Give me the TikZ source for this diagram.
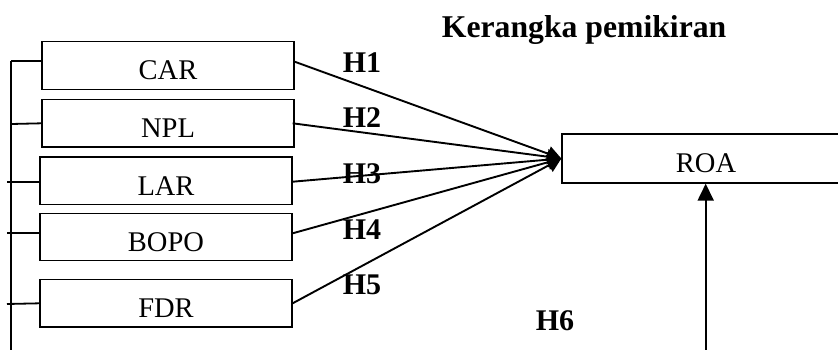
\documentclass[tikz,border=0pt]{standalone}
\usepackage{fontspec}
\setmainfont{Liberation Serif}
\usetikzlibrary{arrows.meta}
\begin{document}
\begin{tikzpicture}[x=1pt,y=-1pt,
  varbox/.style={draw,line width=1.3pt,minimum width=252pt,minimum height=47.5pt,inner sep=0pt,
    font=\fontsize{28.5}{30}\selectfont,text height=28.8pt,text depth=0pt},
  hlabel/.style={inner sep=0pt,font=\fontsize{30}{32}\selectfont\bfseries},
  conn/.style={line width=1.9pt,-{Triangle[length=14pt,width=15pt]}},
  bus/.style={line width=1.8pt}]
\useasboundingbox (0,0) rectangle (838,349);
% title
\node[anchor=base west,inner sep=0pt,font=\fontsize{31.7}{34}\selectfont\bfseries] (title) at (441.7,37) {Kerangka pemikiran};
% boxes
\node[varbox] (car) at (168,65.5) {CAR};
\node[varbox] (npl) at (168,123.3) {NPL};
\node[varbox] (lar) at (166,180.7) {LAR};
\node[varbox] (bopo) at (166,237) {BOPO};
\node[varbox] (fdr) at (166,303.3) {FDR};
\node[varbox,minimum width=288pt,minimum height=49pt] (roa) at (706,158.5) {ROA};
% left bus
\coordinate (bt) at (11,61);
\coordinate (bb) at (11,351);
\draw[bus] (bt) -- (bb);
\coordinate (k1) at (11,61);
\coordinate (k2) at (11,124);
\coordinate (k3) at (7,181.7);
\coordinate (k4) at (7,232.7);
\coordinate (k5) at (7,304);
\draw[bus] (k1) -- ([yshift=4.5pt]car.west);
\draw[bus] (k2) -- (npl.west);
\draw[bus] (k3) -- ([yshift=-1pt]lar.west);
\draw[bus] (k4) -- ([yshift=4.3pt]bopo.west);
\draw[bus] (k5) -- (fdr.west);
% connectors
\draw[conn] ([yshift=3.8pt]car.east) -- (roa.west);
\draw[conn] ([xshift=-2pt]npl.east) -- (roa.west);
\draw[conn] ([yshift=-1pt]lar.east) -- (roa.west);
\draw[conn] ([yshift=3.7pt]bopo.east) -- (roa.west);
\draw[conn] (fdr.east) -- (roa.west);
% labels
\node[hlabel] (h1) at (362,63) {H1};
\node[hlabel] (h2) at (362,118) {H2};
\node[hlabel] (h3) at (362,174) {H3};
\node[hlabel] (h4) at (362,230) {H4};
\node[hlabel] (h5) at (362,285) {H5};
\node[hlabel] (h6) at (555,321) {H6};
% bottom arrow
\coordinate (hs) at (705.7,351);
\draw[line width=1.9pt,-{Triangle[length=17pt,width=16pt]}] (hs) -- (hs |- roa.south);
\end{tikzpicture}
\end{document}
